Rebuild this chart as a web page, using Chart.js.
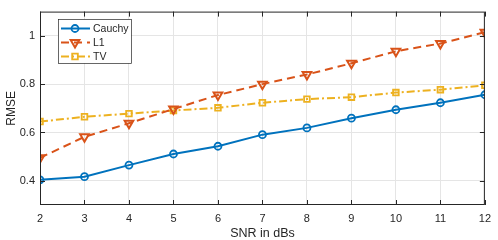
<!DOCTYPE html>
<html>
<head>
<meta charset="utf-8">
<script src="https://cdn.jsdelivr.net/npm/chart.js@4.4.1/dist/chart.umd.min.js"></script>
<style>
  body { margin: 0; background: #fff; }
</style>
</head>
<body>
<canvas id="chart" width="498" height="240"></canvas>
<script>
// data
const snr = [2, 3, 4, 5, 6, 7, 8, 9, 10, 11, 12];
const cauchy = [0.404, 0.417, 0.465, 0.511, 0.543, 0.591, 0.619, 0.659, 0.694, 0.723, 0.756];
const l1 = [0.495, 0.582, 0.638, 0.697, 0.755, 0.800, 0.840, 0.886, 0.936, 0.968, 1.015];
const tv = [0.645, 0.665, 0.678, 0.691, 0.702, 0.723, 0.738, 0.746, 0.765, 0.777, 0.795];
const yTicks = [0.4, 0.6, 0.8, 1];
const seriesNames = ['Cauchy', 'L1', 'TV'];

const blue = '#0072BD', orange = '#D95319', yellow = '#EDB120';
const axisColor = '#262626';
const fontFamily = '"Liberation Sans", Arial, sans-serif';

function toPoints(ys) {
    return snr.map((x, i) => ({x: x, y: ys[i]}));
}

// box round the plot, inward ticks on all four sides, legend in the corner
const matlabFrame = {
    id: 'matlabFrame',
    afterDatasetsDraw(chart) {
        const {ctx, chartArea: a, scales} = chart;
        ctx.save();
        ctx.strokeStyle = axisColor;
        ctx.lineWidth = 1;
        ctx.strokeRect(a.left + 0.5, a.top + 0.5, a.right - a.left - 1, a.bottom - a.top - 1);
        const len = 5;
        ctx.beginPath();
        scales.x.ticks.forEach(t => {
            const px = Math.round(scales.x.getPixelForValue(t.value)) + 0.5;
            ctx.moveTo(px, a.bottom); ctx.lineTo(px, a.bottom - len);
            ctx.moveTo(px, a.top); ctx.lineTo(px, a.top + len);
        });
        scales.y.ticks.forEach(t => {
            const py = Math.round(scales.y.getPixelForValue(t.value)) + 0.5;
            ctx.moveTo(a.left, py); ctx.lineTo(a.left + len, py);
            ctx.moveTo(a.right, py); ctx.lineTo(a.right - len, py);
        });
        ctx.stroke();

        // legend
        const bx = 58, by = 19, bw = 73, bh = 44;
        ctx.fillStyle = '#fff';
        ctx.fillRect(bx, by, bw, bh);
        ctx.strokeStyle = axisColor;
        ctx.lineWidth = 0.7;
        ctx.strokeRect(bx + 0.5, by + 0.5, bw, bh);
        chart.data.datasets.forEach((ds, i) => {
            const y = by + 9.5 + i * 14;
            ctx.strokeStyle = ds.borderColor;
            ctx.lineWidth = ds.borderWidth;
            ctx.setLineDash(ds.borderDash || []);
            ctx.beginPath();
            ctx.moveTo(bx + 3, y); ctx.lineTo(bx + 32, y);
            ctx.stroke();
            ctx.setLineDash([]);
            ctx.strokeStyle = ds.borderColor;
            ctx.fillStyle = ds.pointBackgroundColor;
            ctx.lineWidth = ds.pointBorderWidth;
            Chart.helpers.drawPoint(ctx, {
                pointStyle: ds.pointStyle,
                rotation: ds.pointRotation || 0,
                radius: ds.pointRadius,
                borderWidth: ds.pointBorderWidth
            }, bx + 17, y);
            ctx.fillStyle = axisColor;
            ctx.font = '10.5px ' + fontFamily;
            ctx.textBaseline = 'middle';
            ctx.textAlign = 'left';
            ctx.fillText(ds.label, bx + 35, y + 0.5);
        });
        ctx.restore();
    }
};

const ctx = document.getElementById('chart').getContext('2d');
new Chart(ctx, {
    type: 'line',
    data: {
        datasets: [{
            label: seriesNames[0],
            data: toPoints(cauchy),
            borderColor: blue,
            borderWidth: 2,
            pointStyle: 'circle',
            pointRadius: 3.5,
            pointBorderWidth: 1.8,
            pointBackgroundColor: 'rgba(0,0,0,0)',
            pointBorderColor: blue
        }, {
            label: seriesNames[1],
            data: toPoints(l1),
            borderColor: orange,
            borderWidth: 2,
            borderDash: [8, 5],
            pointStyle: 'triangle',
            pointRotation: 180,
            pointRadius: 5,
            pointBorderWidth: 2,
            pointBackgroundColor: 'rgba(0,0,0,0)',
            pointBorderColor: orange
        }, {
            label: seriesNames[2],
            data: toPoints(tv),
            borderColor: yellow,
            borderWidth: 2,
            borderDash: [8, 3, 2, 3],
            pointStyle: 'rect',
            pointRadius: 4,
            pointBorderWidth: 1.8,
            pointBackgroundColor: 'rgba(0,0,0,0)',
            pointBorderColor: yellow
        }]
    },
    options: {
        responsive: false,
        animation: false,
        devicePixelRatio: 1,
        layout: {padding: {top: 4, right: 11, left: 0, bottom: 0}},
        plugins: {
            legend: {display: false},
            tooltip: {enabled: false}
        },
        scales: {
            x: {
                type: 'linear',
                min: 2,
                max: 12,
                ticks: {
                    stepSize: 1,
                    color: axisColor,
                    font: {family: fontFamily, size: 11},
                    padding: 7,
                    maxRotation: 0
                },
                grid: {color: '#e5e5e5', drawTicks: false},
                border: {display: false},
                title: {
                    display: true,
                    text: 'SNR in dBs',
                    color: axisColor,
                    font: {family: fontFamily, size: 12.5},
                    padding: {top: 0, bottom: -1}
                },
                afterFit(scale) { scale.height = 35; }
            },
            y: {
                min: 0.3,
                max: 1.1,
                afterBuildTicks(scale) {
                    scale.ticks = yTicks.map(v => ({value: v}));
                },
                ticks: {
                    color: axisColor,
                    font: {family: fontFamily, size: 11},
                    padding: 5,
                    callback: v => String(v)
                },
                grid: {color: '#e5e5e5', drawTicks: false},
                border: {display: false},
                title: {
                    display: true,
                    text: 'RMSE',
                    color: axisColor,
                    font: {family: fontFamily, size: 12},
                    padding: {top: 4, bottom: 0}
                },
                afterFit(scale) { scale.width = 40; }
            }
        }
    },
    plugins: [matlabFrame]
});
</script>
</body>
</html>
